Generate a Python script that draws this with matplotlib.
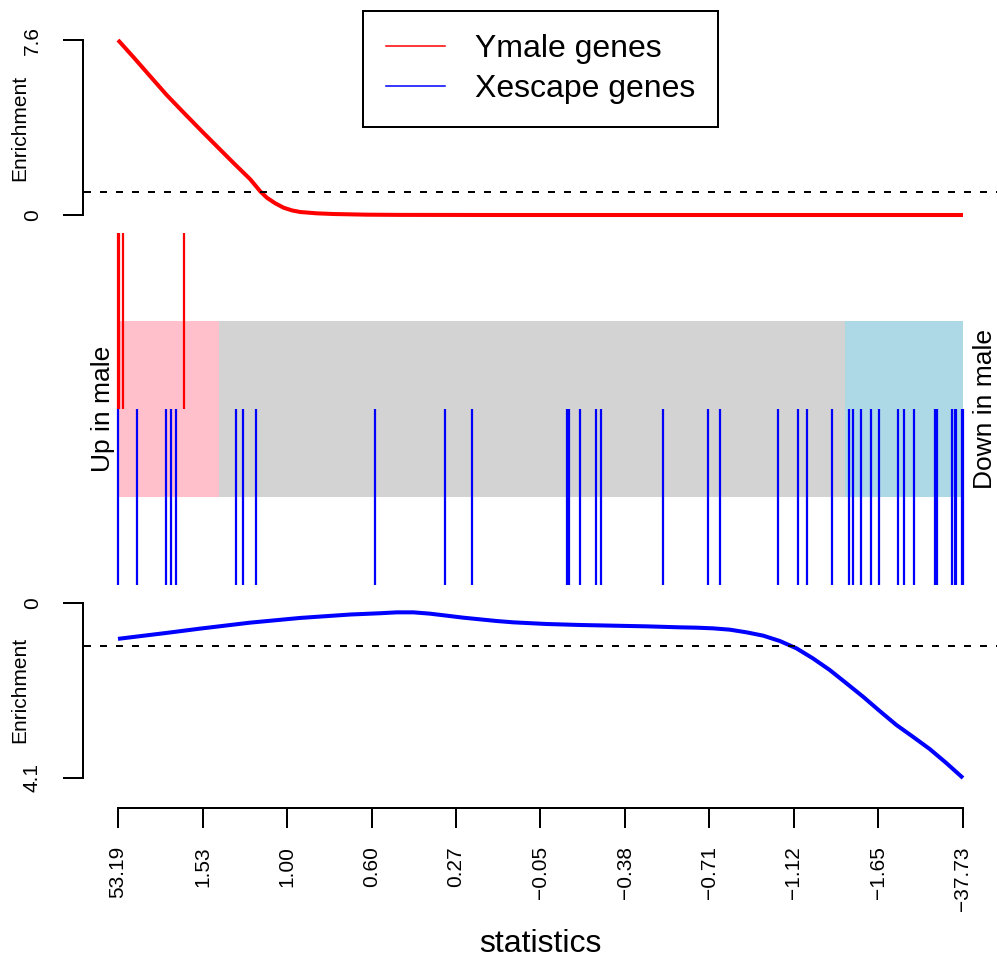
import numpy as np
import matplotlib
matplotlib.use("Agg")
import matplotlib.pyplot as plt
from matplotlib.lines import Line2D

plt.rcParams['font.family'] = ['Liberation Sans', 'DejaVu Sans']

# rank position (0 = most up in male, 1 = most down) of genes in each set
ymale_pos = [0.0, 0.0012, 0.0059, 0.0780]
xescape_pos = [0.0, 0.0225, 0.0563, 0.0630, 0.0689, 0.1399, 0.1478, 0.1632,
               0.3043, 0.3871, 0.4186, 0.5313, 0.5335, 0.5471, 0.5653, 0.5712,
               0.6445, 0.6984, 0.7126, 0.7809, 0.8045, 0.8148, 0.8451, 0.8652,
               0.8704, 0.8798, 0.8912, 0.9003, 0.9231, 0.9302, 0.9421, 0.9674,
               0.9697, 0.9870, 0.9902, 0.9922, 0.9988, 1.0]

# enrichment curves
ymale_x = [0.0, 0.0086, 0.0184, 0.0382, 0.0579, 0.0776, 0.0973, 0.1171, 0.1367,
           0.1565, 0.1683, 0.1762, 0.1860, 0.1958, 0.2058, 0.2156, 0.2353,
           0.2550, 0.2945, 0.3338, 0.4521, 1.0]
ymale_enr = [7.6, 7.25, 6.85, 6.02, 5.20, 4.45, 3.71, 2.98, 2.26,
             1.55, 1.03, 0.75, 0.51, 0.32, 0.20, 0.13, 0.072,
             0.043, 0.014, 0.005, 0.0, 0.0]

xesc_x = [0.0, 0.0579, 0.0973, 0.1565, 0.2156, 0.2747, 0.3102, 0.3299, 0.3496,
          0.3693, 0.3891, 0.4087, 0.4284, 0.4482, 0.4678, 0.5073, 0.5467,
          0.5861, 0.6256, 0.6650, 0.6847, 0.7044, 0.7241, 0.7438, 0.7635,
          0.7832, 0.8029, 0.8226, 0.8423, 0.8621, 0.8817, 0.9014, 0.9212,
          0.9406, 0.9606, 0.9803, 1.0]
xesc_enr = [0.84, 0.70, 0.60, 0.46, 0.35, 0.27, 0.24, 0.219, 0.219,
            0.25, 0.297, 0.344, 0.383, 0.422, 0.453, 0.492, 0.515,
            0.531, 0.547, 0.57, 0.578, 0.594, 0.625, 0.687, 0.765,
            0.89, 1.062, 1.30, 1.57, 1.882, 2.195, 2.53, 2.858,
            3.132, 3.421, 3.75, 4.1]

tick_labels = ['53.19', '1.53', '1.00', '0.60', '0.27', '\u22120.05',
               '\u22120.38', '\u22120.71', '\u22121.12', '\u22121.65', '\u221237.73']

up_region = (0.0, 0.1198)
down_region = (0.860, 1.0)

W, H = 997, 960
fig = plt.figure(figsize=(W / 100, H / 100), dpi=100)

left = 84.2 / W
width = (996.8 - 84.2) / W
xlim = (-0.04, 1.04)


def box(top, bottom):
    return [left, 1 - bottom / H, width, (bottom - top) / H]


lw_axis = 1.44
tick_len = 14.4

# top panel: Ymale enrichment
ax1 = fig.add_axes(box(40, 215))
ax1.plot(ymale_x, ymale_enr, color='red', lw=2.9, clip_on=False, solid_capstyle='butt')
ax1.axhline(1, color='black', lw=1.44, dashes=(3.5, 4.5))
ax1.set_xlim(xlim)
ax1.set_ylim(0, 7.6)

# middle: barcode
ax2 = fig.add_axes(box(233, 585))
ax2.set_xlim(xlim)
ax2.set_ylim(-2, 2)
ax2.fill_between([0, 1], -1, 1, color='lightgray', lw=0)
ax2.fill_between(up_region, -1, 1, color='pink', lw=0)
ax2.fill_between(down_region, -1, 1, color='lightblue', lw=0)
ax2.vlines(ymale_pos, 0, 2, color='red', lw=1.6)
ax2.vlines(xescape_pos, -2, 0, color='blue', lw=1.6)
ax2.axis('off')

# bottom panel: Xescape enrichment (inverted)
ax3 = fig.add_axes(box(603, 778))
ax3.plot(xesc_x, xesc_enr, color='blue', lw=2.9, clip_on=False, solid_capstyle='butt')
ax3.axhline(1, color='black', lw=1.44, dashes=(3.5, 4.5))
ax3.set_xlim(xlim)
ax3.set_ylim(4.1, 0)

for ax, top in ((ax1, 7.6), (ax3, 4.1)):
    for s in ('top', 'right'):
        ax.spines[s].set_visible(False)
    ax.spines['left'].set_position(('outward', 1))
    ax.spines['left'].set_bounds(0, top)
    ax.spines['left'].set_linewidth(lw_axis)
    ax.set_yticks([0, top])
    ax.set_yticklabels(['0', f'{top:.1f}'], rotation=90, va='center', fontsize=15)
    ax.tick_params(axis='y', length=tick_len, width=lw_axis, pad=15)
    ax.patch.set_visible(False)

ax1.spines['bottom'].set_visible(False)
ax1.set_xticks([])

ax3.spines['bottom'].set_position(('outward', 21.6))
ax3.spines['bottom'].set_bounds(0, 1)
ax3.spines['bottom'].set_linewidth(lw_axis)
ax3.set_xticks(np.linspace(0, 1, 11))
ax3.set_xticklabels(tick_labels, rotation=90, fontsize=15)
ax3.tick_params(axis='x', length=tick_len, width=lw_axis, pad=13)

fig.text(19.5 / W, 1 - 128 / H, 'Enrichment', rotation=90, ha='center', va='center', fontsize=15)
fig.text(19.5 / W, 1 - 690 / H, 'Enrichment', rotation=90, ha='center', va='center', fontsize=15)
fig.text(103 / W, 1 - 409 / H, 'Up in male', rotation=90, ha='center', va='center', fontsize=19)
fig.text(985 / W, 1 - 409 / H, 'Down in male', rotation=90, ha='center', va='center', fontsize=19)
fig.text(540.5 / W, 1 - 944 / H, 'statistics', ha='center', va='center', fontsize=23)

handles = [Line2D([], [], color='red', lw=1.1), Line2D([], [], color='blue', lw=1.1)]
leg = fig.legend(handles, ['Ymale genes', 'Xescape genes'], loc='upper center',
                 bbox_to_anchor=(540.5 / W, 1 - 11 / H), fontsize=23, frameon=True,
                 fancybox=False, edgecolor='black', framealpha=1, borderaxespad=0,
                 borderpad=0.72, handlelength=1.85, handletextpad=0.95, labelspacing=0.32)
leg.get_frame().set_linewidth(1.44)

fig.savefig('out.png', dpi=100)
